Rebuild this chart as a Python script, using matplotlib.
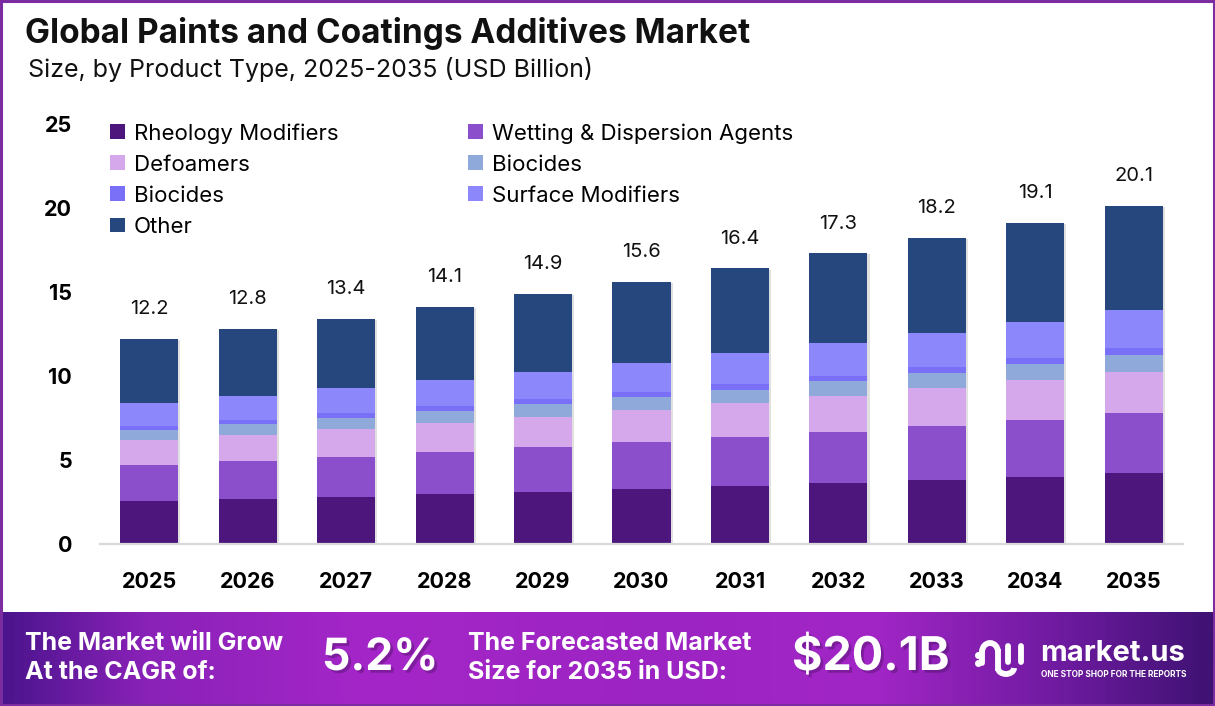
import numpy as np
import matplotlib
matplotlib.use("Agg")
import matplotlib.pyplot as plt
from matplotlib.patches import Rectangle, Arc
from matplotlib.colors import LinearSegmentedColormap
import matplotlib.patheffects as pe

# ------------------------------------------------------------------
# Data (USD Billion)
years = ["2025", "2026", "2027", "2028", "2029", "2030",
         "2031", "2032", "2033", "2034", "2035"]
totals = [12.2, 12.8, 13.4, 14.1, 14.9, 15.6, 16.4, 17.3, 18.2, 19.1, 20.1]

rheology = [2.56, 2.68, 2.80, 2.98, 3.10, 3.27, 3.45, 3.63, 3.81, 3.99, 4.23]
wetting = [2.14, 2.26, 2.38, 2.50, 2.67, 2.80, 2.92, 3.04, 3.21, 3.39, 3.57]
defoamers = [1.49, 1.55, 1.67, 1.72, 1.79, 1.91, 2.02, 2.14, 2.27, 2.38, 2.44]
biocides_a = [0.60, 0.65, 0.65, 0.72, 0.77, 0.77, 0.78, 0.89, 0.89, 0.95, 1.01]
biocides_b = [0.23, 0.24, 0.30, 0.29, 0.30, 0.30, 0.35, 0.30, 0.36, 0.36, 0.42]
surface = [1.37, 1.43, 1.49, 1.55, 1.61, 1.72, 1.85, 1.96, 2.02, 2.14, 2.26]
other = [3.81, 3.99, 4.11, 4.34, 4.66, 4.83, 5.03, 5.34, 5.64, 5.89, 6.17]

series_names = ["Rheology Modifiers", "Wetting & Dispersion Agents", "Defoamers",
                "Biocides", "Biocides", "Surface Modifiers", "Other"]
series_values = [rheology, wetting, defoamers, biocides_a, biocides_b, surface, other]
series_colors = ["#4c167d", "#8c4fcc", "#d4a8ea", "#8fa9da",
                 "#7a70f8", "#8c88fc", "#26467e"]

cagr_text = "5.2%"
forecast_text = "$20.1B"

# ------------------------------------------------------------------
plt.rcParams['font.family'] = ['Inter', 'DejaVu Sans']

W, H = 1215, 706
fig = plt.figure(figsize=(W / 100, H / 100), dpi=100)
fig.patch.set_facecolor("white")

# main axes: x from 100 to 1183 px, y from 124 (25) to 544 (0)
ax = fig.add_axes([100 / W, (H - 544) / H, 1083 / W, 420 / H])
x = np.arange(len(years))
bar_w = 0.59

# soft shadow behind whole bars
ax.bar(x, totals, width=bar_w, color="white", zorder=1,
       path_effects=[pe.SimplePatchShadow(offset=(1.5, -0.8), shadow_rgbFace="#000000", alpha=0.12),
                     pe.Normal()])

bottom = np.zeros(len(years))
handles = []
for name, vals, col in zip(series_names, series_values, series_colors):
    b = ax.bar(x, vals, bottom=bottom, width=bar_w, color=col, label=name, zorder=2)
    handles.append(b)
    bottom += np.array(vals)

for xi, t in zip(x, totals):
    ax.annotate(f"{t}", (xi, t), xytext=(0, 15), textcoords="offset points",
                ha="center", va="bottom", fontsize=14.5, color="#111111")

ax.set_xlim(-0.5, len(years) - 0.5)
ax.set_ylim(0, 25)
ax.set_xticks(x)
ax.set_xticklabels(years, fontsize=15.5, fontweight="bold")
ax.set_yticks([0, 5, 10, 15, 20, 25])
ax.set_yticklabels(["0", "5", "10", "15", "20", "25"], fontsize=15.5, fontweight="bold")
ax.tick_params(axis="both", length=0)
ax.tick_params(axis="x", pad=20)
ax.tick_params(axis="y", pad=20)
for s in ["top", "right", "left"]:
    ax.spines[s].set_visible(False)
ax.spines["bottom"].set_color("#d9d9d9")
ax.spines["bottom"].set_linewidth(1.6)

order = [0, 2, 4, 6, 1, 3, 5]
leg = ax.legend([handles[i] for i in order], [series_names[i] for i in order],
                ncol=2, loc="upper left", bbox_to_anchor=(-0.009, 1.05),
                frameon=False, fontsize=16, handlelength=0.65, handleheight=0.65,
                handletextpad=0.4, labelspacing=0.5, columnspacing=5.85)

# titles
fig.text(25 / W, 1 - 33 / H, "Global Paints and Coatings Additives Market",
         fontsize=24, fontweight="bold", va="center", ha="left", color="#111111")
fig.text(28 / W, 1 - 70 / H, "Size, by Product Type, 2025-2035 (USD Billion)",
         fontsize=18, va="center", ha="left", color="#111111")

# ------------------------------------------------------------------
# bottom banner (pixel coordinates)
bax = fig.add_axes([0, 0, 1, 94 / H])
bax.set_xlim(0, W)
bax.set_ylim(706, 612)
bax.axis("off")
cmap = LinearSegmentedColormap.from_list(
    "banner",
    [(0.0, "#4a148c"), (0.12, "#8a22b8"), (0.3, "#a526c8"), (0.55, "#9c24c2"),
     (0.72, "#a226c6"), (0.88, "#6c1a9e"), (1.0, "#3e1272")])
grad = np.linspace(0, 1, 512).reshape(1, -1)
bax.imshow(grad, aspect="auto", cmap=cmap, extent=[0, W, 706, 612], zorder=0)

big_shadow = [pe.withSimplePatchShadow(offset=(2, -2), shadow_rgbFace="#2a0a40", alpha=0.3)]
bax.text(25, 658, "The Market will Grow\nAt the CAGR of:", color="white",
         fontsize=18, fontweight="bold", va="center", ha="left", linespacing=1.35)
bax.text(322, 658, cagr_text, color="white", fontsize=32, fontweight="bold",
         va="center", ha="left", path_effects=big_shadow)
bax.text(468, 658, "The Forecasted Market\nSize for 2035 in USD:", color="white",
         fontsize=18, fontweight="bold", va="center", ha="left", linespacing=1.35)
bax.text(792, 658, forecast_text, color="white", fontsize=33.5, fontweight="bold",
         va="center", ha="left", path_effects=big_shadow)

# logo icon
lw = 4.2
bax.plot([978, 978], [655, 663], ls="none", marker="o", color="white", markersize=4)
bax.add_patch(Arc((990, 652), 16, 18, theta1=180, theta2=360, color="white", lw=lw))
bax.plot([982, 982], [652, 663], color="white", lw=lw, solid_capstyle="round")
bax.plot([998, 998], [652, 668], color="white", lw=lw)
bax.add_patch(Arc((1006, 668), 16, 12, theta1=0, theta2=180, color="white", lw=lw))
bax.plot([1008, 1008], [646, 662], color="white", lw=lw, solid_capstyle="round")
bax.plot([1021, 1021], [646, 662], color="white", lw=lw, solid_capstyle="round")
bax.text(1040, 661, "market.us", color="white", fontsize=21, fontweight="bold",
         va="baseline", ha="left")
bax.text(1041, 674.5, "ONE STOP SHOP FOR THE REPORTS", color="white", fontsize=6,
         fontweight="bold", va="center", ha="left")

# figure border
fig.patches.append(Rectangle((0.001, 0.001), 0.998, 0.998, transform=fig.transFigure,
                             fill=False, edgecolor="#7b2ca0", linewidth=2.2, zorder=10))

fig.savefig("out.png", dpi=100)
